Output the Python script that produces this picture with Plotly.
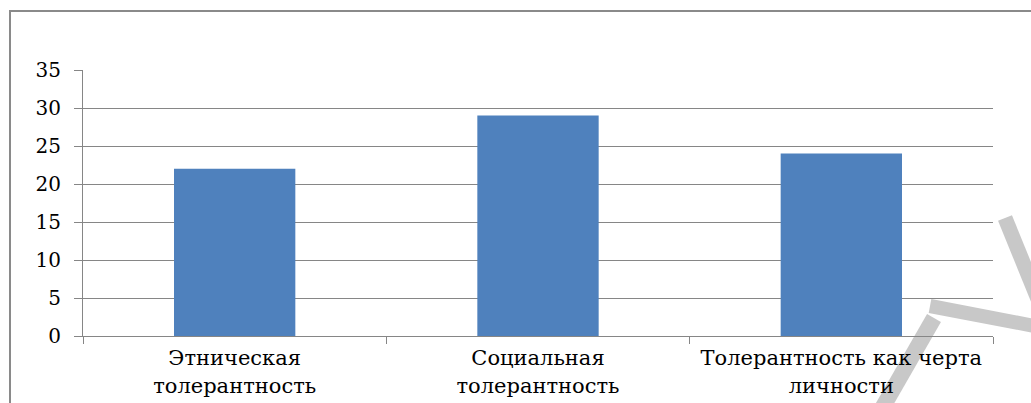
import plotly.graph_objects as go

categories = ["Этническая<br>толерантность", "Социальная<br>толерантность", "Толерантность как черта<br>личности"]
values = [22, 29, 24]
y_ticks = [0, 5, 10, 15, 20, 25, 30, 35]

W, H = 1031, 403
L, R, T, B = 83, 38, 70, 67
PW = W - L - R
PH = H - T - B


def px(x):
    return (x - L) / PW


def py(y):
    return (H - B - y) / PH


GRID = "#868686"
FONT = "DejaVu Serif"

fig = go.Figure(
    go.Bar(x=categories, y=values, marker=dict(color="#4F81BD", line=dict(width=0)), width=0.4)
)

shapes = [
    # outer frame
    dict(type="rect", xref="paper", yref="paper", x0=px(10), x1=px(1050), y0=py(11), y1=py(430),
         line=dict(color="#8a8a8a", width=2), layer="below"),
    # watermark strokes
    dict(type="line", xref="paper", yref="paper", x0=px(934), y0=py(318), x1=px(880), y1=py(412),
         line=dict(color="#c8c8c8", width=16), layer="below"),
    dict(type="line", xref="paper", yref="paper", x0=px(930), y0=py(306), x1=px(1045), y1=py(328),
         line=dict(color="#c8c8c8", width=14), layer="below"),
    dict(type="line", xref="paper", yref="paper", x0=px(1005), y0=py(218), x1=px(1040), y1=py(304),
         line=dict(color="#c8c8c8", width=15), layer="below"),
]

fig.update_layout(
    width=W, height=H,
    margin=dict(l=L, r=R, t=T, b=B, pad=0),
    paper_bgcolor="white",
    plot_bgcolor="rgba(0,0,0,0)",
    showlegend=False,
    bargap=0.6,
    shapes=shapes,
    xaxis=dict(
        automargin=False,
        showline=True, linecolor=GRID, linewidth=1,
        ticks="outside", tickson="boundaries", ticklen=7, tickcolor=GRID,
        ticklabelstandoff=3,
        tickfont=dict(family=FONT, size=21, color="black"),
        showgrid=False,
    ),
    yaxis=dict(
        automargin=False,
        range=[0, 35], tickvals=y_ticks, ticktext=[str(v) for v in y_ticks],
        showgrid=True, gridcolor=GRID, gridwidth=1,
        showline=True, linecolor=GRID, linewidth=1,
        ticks="outside", ticklen=8, tickcolor=GRID,
        ticklabelstandoff=9,
        tickfont=dict(family=FONT, size=20, color="black"),
        zeroline=False,
    ),
)

fig.write_html("out.html")
